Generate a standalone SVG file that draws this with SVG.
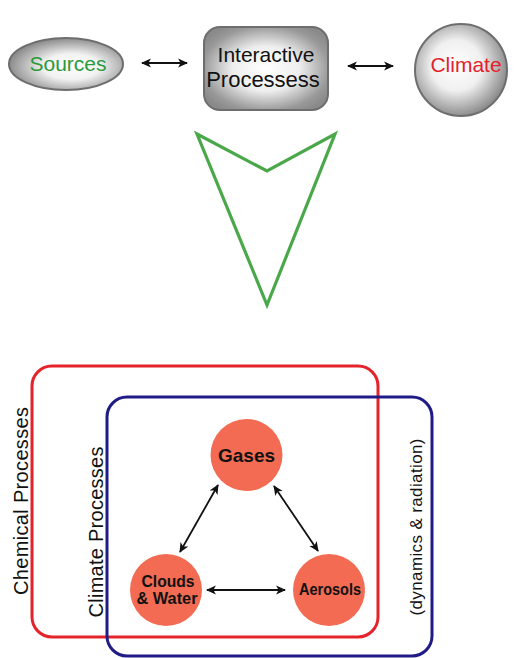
<svg xmlns="http://www.w3.org/2000/svg" width="519" height="658" viewBox="0 0 519 658">
<style>
.lbl{font-family:"Liberation Sans",Arial,sans-serif;}
.top{font-size:21px;}
.side{font-size:20px;fill:#111;}
.bold{font-family:"Liberation Sans",Arial,sans-serif;font-weight:bold;fill:#111;}
.grayshape{stroke:#6e6e6e;stroke-width:2;}
.conn{stroke:#111;stroke-width:1.8;fill:none;}
.ball{fill:#f26b52;}
</style>
<defs>
<radialGradient id="gSrc" cx="0.55" cy="0.55" r="0.55">
<stop offset="0" stop-color="#ffffff"/>
<stop offset="0.45" stop-color="#f2f2f2"/>
<stop offset="1" stop-color="#8c8c8c"/>
</radialGradient>
<radialGradient id="gBox" cx="0.5" cy="0.5" r="0.6">
<stop offset="0" stop-color="#ffffff"/>
<stop offset="0.45" stop-color="#eeeeee"/>
<stop offset="0.85" stop-color="#999999"/>
<stop offset="1" stop-color="#8a8a8a"/>
</radialGradient>
<radialGradient id="gClim" cx="0.45" cy="0.45" r="0.55">
<stop offset="0" stop-color="#ffffff"/>
<stop offset="0.5" stop-color="#f0f0f0"/>
<stop offset="1" stop-color="#8e8e8e"/>
</radialGradient>
<marker id="ah" viewBox="0 0 10 10" refX="9" refY="5" markerWidth="5.5" markerHeight="5.5" orient="auto-start-reverse" markerUnits="strokeWidth">
<path d="M0,0.5 L10,5 L0,9.5 L2.5,5 Z" fill="#111"/>
</marker>
</defs>

<g id="sources">
<ellipse cx="66" cy="64" rx="57" ry="26" fill="url(#gSrc)" class="grayshape"/>
<text x="68" y="71" text-anchor="middle" class="lbl top" fill="#2a9a3c">Sources</text>
</g>

<g id="interactive">
<rect x="204" y="27" width="124" height="83" rx="16" fill="url(#gBox)" class="grayshape"/>
<text x="266" y="62" text-anchor="middle" class="lbl top" fill="#111">Interactive</text>
<text x="263" y="87" text-anchor="middle" class="lbl" font-size="22" fill="#111">Processess</text>
</g>

<g id="climate">
<circle cx="461" cy="70" r="46" fill="url(#gClim)" class="grayshape"/>
<text x="466" y="72" text-anchor="middle" class="lbl top" fill="#e32129">Climate</text>
</g>

<g id="bigarrow">
<path d="M197,134 L267,171 L335,134 L267,305 Z" fill="none" stroke="#4aa84a" stroke-width="3.2" stroke-linejoin="miter"/>
</g>

<g id="chemical">
<rect x="32" y="366" width="346" height="271" rx="20" fill="none" stroke="#e5232b" stroke-width="3"/>
<text transform="translate(28,501) rotate(-90)" text-anchor="middle" class="lbl side" textLength="188">Chemical Processes</text>
</g>

<g id="climateproc">
<rect x="107" y="397" width="325" height="259" rx="20" fill="none" stroke="#201c87" stroke-width="3"/>
<text transform="translate(103,532) rotate(-90)" text-anchor="middle" class="lbl side" textLength="171">Climate Processes</text>
<text transform="translate(422,527) rotate(-90)" text-anchor="middle" class="lbl" font-size="17" fill="#111" textLength="177">(dynamics &amp; radiation)</text>
</g>

<g id="gases">
<circle cx="246.5" cy="455" r="36" class="ball"/>
<text x="246.5" y="462" text-anchor="middle" class="bold" font-size="19" textLength="57" lengthAdjust="spacingAndGlyphs">Gases</text>
</g>

<g id="clouds">
<circle cx="166" cy="590" r="36" class="ball"/>
<text x="168" y="587" text-anchor="middle" class="bold" font-size="16" textLength="53" lengthAdjust="spacingAndGlyphs">Clouds</text>
<text x="167" y="604" text-anchor="middle" class="bold" font-size="16" textLength="61" lengthAdjust="spacingAndGlyphs">&amp; Water</text>
</g>

<g id="aerosols">
<circle cx="329" cy="590" r="36" class="ball"/>
<text x="330" y="595" text-anchor="middle" class="bold" font-size="16" textLength="62" lengthAdjust="spacingAndGlyphs">Aerosols</text>
</g>

<g id="connectors">
<line x1="142" y1="63" x2="187" y2="63" class="conn" marker-start="url(#ah)" marker-end="url(#ah)"/>
<line x1="348" y1="66" x2="393" y2="66" class="conn" marker-start="url(#ah)" marker-end="url(#ah)"/>
<line x1="218" y1="485" x2="180" y2="552" class="conn" marker-start="url(#ah)" marker-end="url(#ah)"/>
<line x1="274" y1="486" x2="318" y2="551" class="conn" marker-start="url(#ah)" marker-end="url(#ah)"/>
<line x1="207" y1="590" x2="285" y2="590" class="conn" marker-start="url(#ah)" marker-end="url(#ah)"/>
</g>
</svg>
